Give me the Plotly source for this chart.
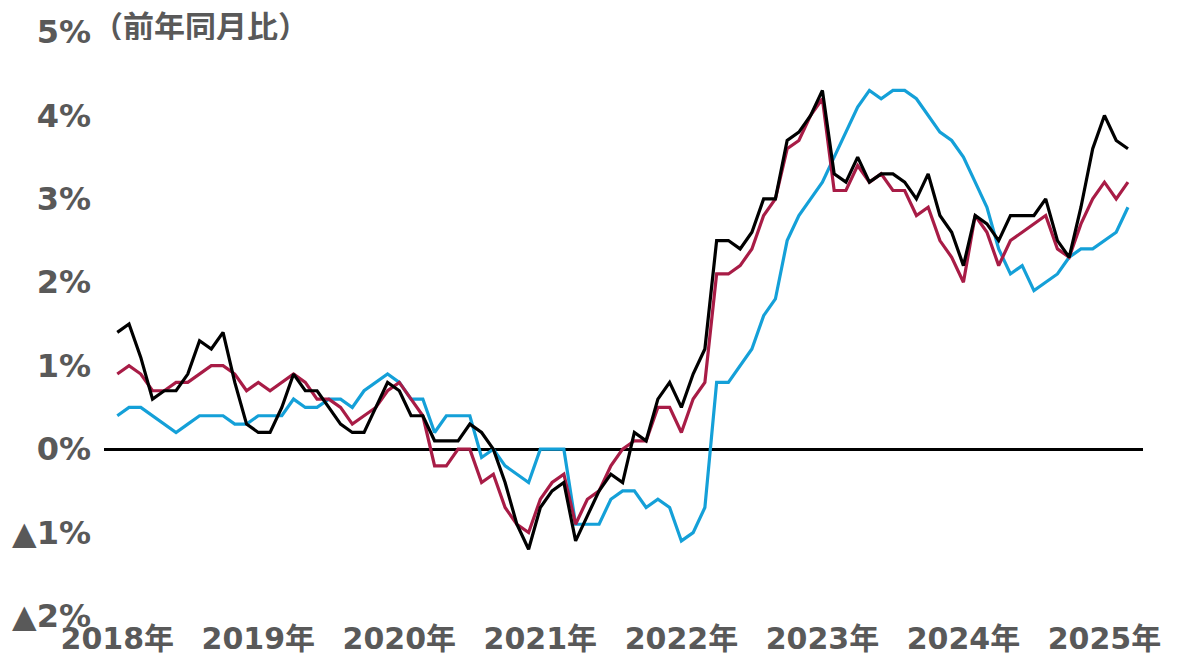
import plotly.graph_objects as go

years = ["2018年", "2019年", "2020年", "2021年", "2022年", "2023年", "2024年", "2025年"]
y_ticks = [5, 4, 3, 2, 1, 0, -1, -2]
y_tick_labels = ["5%", "4%", "3%", "2%", "1%", "0%", "▲1%", "▲2%"]

# Monthly y/y % (Jan 2018 - Mar 2025)
headline = [
    1.4, 1.5, 1.1, 0.6, 0.7, 0.7, 0.9, 1.3, 1.2, 1.4, 0.8, 0.3,
    0.2, 0.2, 0.5, 0.9, 0.7, 0.7, 0.5, 0.3, 0.2, 0.2, 0.5, 0.8,
    0.7, 0.4, 0.4, 0.1, 0.1, 0.1, 0.3, 0.2, 0.0, -0.4, -0.9, -1.2,
    -0.7, -0.5, -0.4, -1.1, -0.8, -0.5, -0.3, -0.4, 0.2, 0.1, 0.6, 0.8,
    0.5, 0.9, 1.2, 2.5, 2.5, 2.4, 2.6, 3.0, 3.0, 3.7, 3.8, 4.0,
    4.3, 3.3, 3.2, 3.5, 3.2, 3.3, 3.3, 3.2, 3.0, 3.3, 2.8, 2.6,
    2.2, 2.8, 2.7, 2.5, 2.8, 2.8, 2.8, 3.0, 2.5, 2.3, 2.9, 3.6,
    4.0, 3.7, 3.6,
]
core = [
    0.9, 1.0, 0.9, 0.7, 0.7, 0.8, 0.8, 0.9, 1.0, 1.0, 0.9, 0.7,
    0.8, 0.7, 0.8, 0.9, 0.8, 0.6, 0.6, 0.5, 0.3, 0.4, 0.5, 0.7,
    0.8, 0.6, 0.4, -0.2, -0.2, 0.0, 0.0, -0.4, -0.3, -0.7, -0.9, -1.0,
    -0.6, -0.4, -0.3, -0.9, -0.6, -0.5, -0.2, 0.0, 0.1, 0.1, 0.5, 0.5,
    0.2, 0.6, 0.8, 2.1, 2.1, 2.2, 2.4, 2.8, 3.0, 3.6, 3.7, 4.0,
    4.2, 3.1, 3.1, 3.4, 3.2, 3.3, 3.1, 3.1, 2.8, 2.9, 2.5, 2.3,
    2.0, 2.8, 2.6, 2.2, 2.5, 2.6, 2.7, 2.8, 2.4, 2.3, 2.7, 3.0,
    3.2, 3.0, 3.2,
]
core_core = [
    0.4, 0.5, 0.5, 0.4, 0.3, 0.2, 0.3, 0.4, 0.4, 0.4, 0.3, 0.3,
    0.4, 0.4, 0.4, 0.6, 0.5, 0.5, 0.6, 0.6, 0.5, 0.7, 0.8, 0.9,
    0.8, 0.6, 0.6, 0.2, 0.4, 0.4, 0.4, -0.1, 0.0, -0.2, -0.3, -0.4,
    0.0, 0.0, 0.0, -0.9, -0.9, -0.9, -0.6, -0.5, -0.5, -0.7, -0.6, -0.7,
    -1.1, -1.0, -0.7, 0.8, 0.8, 1.0, 1.2, 1.6, 1.8, 2.5, 2.8, 3.0,
    3.2, 3.5, 3.8, 4.1, 4.3, 4.2, 4.3, 4.3, 4.2, 4.0, 3.8, 3.7,
    3.5, 3.2, 2.9, 2.4, 2.1, 2.2, 1.9, 2.0, 2.1, 2.3, 2.4, 2.4,
    2.5, 2.6, 2.9,
]

x = list(range(len(headline)))
year_pos = [i * 12 for i in range(len(years))]

TEXT = "#595959"
FONT = "DejaVu Sans, Noto Sans CJK JP, sans-serif"

fig = go.Figure()
fig.add_trace(go.Scatter(x=x, y=core_core, mode="lines",
                         line=dict(color="#14A0D8", width=3.2), showlegend=False))
fig.add_trace(go.Scatter(x=x, y=core, mode="lines",
                         line=dict(color="#A81C46", width=3.2), showlegend=False))
fig.add_trace(go.Scatter(x=x, y=headline, mode="lines",
                         line=dict(color="#000000", width=3.2), showlegend=False))

fig.update_layout(
    width=1175, height=647,
    margin=dict(l=96, r=40, t=24, b=39, pad=0),
    paper_bgcolor="white", plot_bgcolor="white",
    font=dict(family=FONT, color=TEXT, size=30),
    xaxis=dict(
        range=[-1.13, 87.28],
        tickmode="array", tickvals=year_pos, ticktext=years,
        showgrid=False, zeroline=False, showline=False, ticks="",
        ticklabelstandoff=2, automargin=False,
        tickfont=dict(family=FONT, size=30, color=TEXT, weight="bold"),
    ),
    yaxis=dict(
        range=[-2, 5],
        tickmode="array", tickvals=y_ticks, ticktext=y_tick_labels,
        showgrid=False, showline=False, ticks="",
        zeroline=True, zerolinecolor="#000000", zerolinewidth=2.5,
        ticklabelstandoff=12, automargin=False,
        tickfont=dict(family=FONT, size=32, color=TEXT, weight="bold"),
    ),
    annotations=[dict(
        text="（前年同月比）", xref="paper", yref="paper",
        x=-0.013, y=1.014, xanchor="left", yanchor="middle",
        height=32, valign="middle",
        showarrow=False,
        font=dict(family="Noto Sans CJK JP, sans-serif", size=31, color=TEXT, weight="bold"),
    )],
)

fig.write_html("out.html")
